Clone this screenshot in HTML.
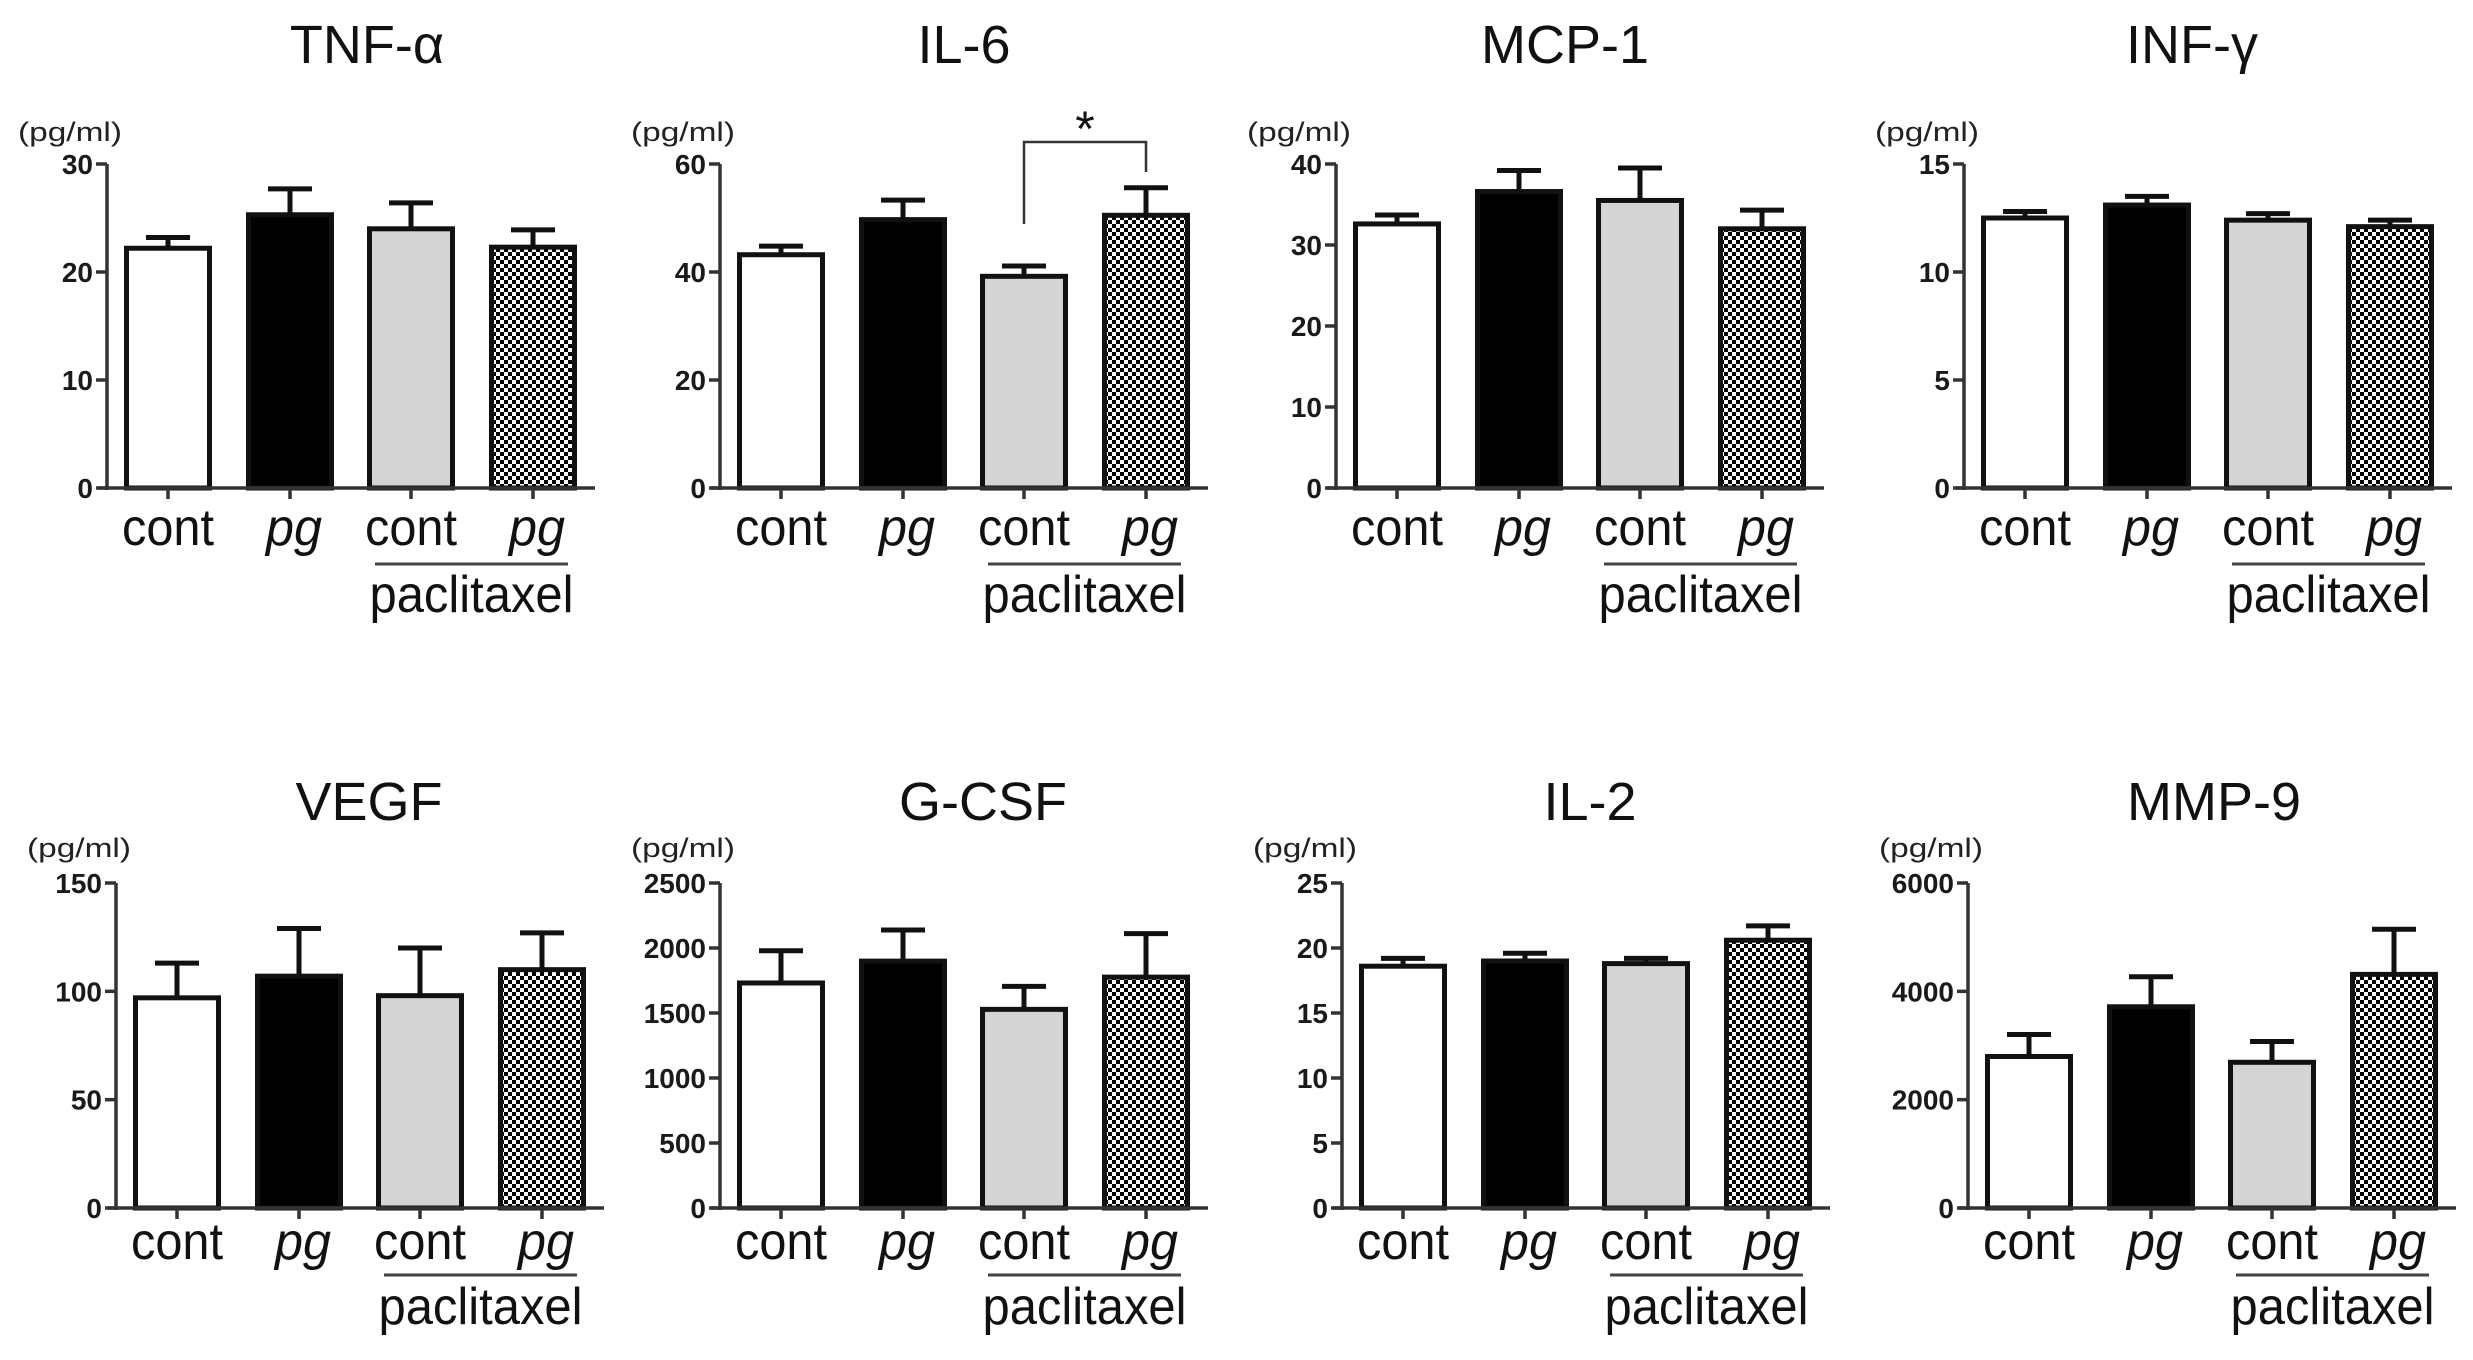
<!DOCTYPE html>
<html><head><meta charset="utf-8"><style>
html,body{margin:0;padding:0;background:#fff;}
svg{display:block;font-family:"Liberation Sans",Arial,sans-serif;}
</style></head>
<body>
<svg id="fig" width="2473" height="1360" viewBox="0 0 2473 1360" xmlns="http://www.w3.org/2000/svg">
<defs>
<pattern id="checker" width="8" height="8" patternUnits="userSpaceOnUse">
<rect width="8" height="8" fill="#fff"/>
<rect x="0" y="0" width="4" height="4" fill="#000"/>
<rect x="4" y="4" width="4" height="4" fill="#000"/>
</pattern>
</defs>
</svg>
<script>
const panelNames = ["TNF-α","IL-6","MCP-1","INF-γ","VEGF","G-CSF","IL-2","MMP-9"];
const categories = ["cont","pg","cont","pg"];
const yMax = [30,60,40,15,150,2500,25,6000];
const tickLabels = [
  [0,10,20,30],[0,20,40,60],[0,10,20,30,40],[0,5,10,15],
  [0,50,100,150],[0,500,1000,1500,2000,2500],[0,5,10,15,20,25],[0,2000,4000,6000]
];
const meanTNF = [22.2,25.3,24.0,22.3];
const errTNF  = [23.2,27.7,26.4,23.9];
const meanIL6 = [43.2,49.7,39.2,50.5];
const errIL6  = [44.8,53.3,41.1,55.6];
const meanMCP = [32.6,36.6,35.5,32.0];
const errMCP  = [33.7,39.2,39.5,34.3];
const meanINF = [12.5,13.1,12.4,12.1];
const errINF  = [12.8,13.5,12.7,12.4];
const meanVEGF = [97,107,98,110];
const errVEGF  = [113,129,120,127];
const meanGCSF = [1731,1899,1528,1776];
const errGCSF  = [1979,2138,1705,2111];
const meanIL2 = [18.6,19.0,18.8,20.6];
const errIL2  = [19.2,19.6,19.2,21.7];
const meanMMP = [2797,3715,2690,4313];
const errMMP  = [3203,4270,3075,5146];
const means = [meanTNF,meanIL6,meanMCP,meanINF,meanVEGF,meanGCSF,meanIL2,meanMMP];
const errs = [errTNF,errIL6,errMCP,errINF,errVEGF,errGCSF,errIL2,errMMP];

// layout (not data)
const axX = [107,720,1336,1964,116,720,1342,1968];
const titleX = [367,964,1565,2192,369,983,1590,2214];
const barOff = [61,183,304,426];
const barW = 83;
const fills = ["#fff","#000","#d4d4d4","url(#checker)"];
const rowGeo = [
  {top:164, zero:488, title:63, unit:141, cat:545, line:564, pac:612},
  {top:883, zero:1208, title:820, unit:857, cat:1259, line:1275, pac:1324}
];

const NS = "http://www.w3.org/2000/svg";
const svg = document.getElementById("fig");
function mk(tag, attrs, parent, text){
  const e = document.createElementNS(NS, tag);
  for (const k in attrs) e.setAttribute(k, attrs[k]);
  if (text !== undefined) e.textContent = text;
  parent.appendChild(e);
  return e;
}

for (let p = 0; p < 8; p++){
  const R = rowGeo[p < 4 ? 0 : 1];
  const top = R.top, zero = R.zero;
  const ax = axX[p];
  const yS = v => zero - (v / yMax[p]) * (zero - top);
  const xS = i => ax + barOff[i];

  const g = mk("g", {}, svg);
  
  

  const t = mk("text", {x:titleX[p], y:R.title, "font-size":54, "text-anchor":"middle", fill:"#111"}, g, panelNames[p]);
  
  

  const u = mk("text", {x:ax-89, y:R.unit, "font-size":27, fill:"#222", textLength:104, lengthAdjust:"spacingAndGlyphs"}, g, "(pg/ml)");
  
  

  for (let i = 0; i < 4; i++){
    const cx = xS(i), yt = yS(means[p][i]), ye = yS(errs[p][i]);
    const el = mk("line", {x1:cx, x2:cx, y1:yt, y2:ye, stroke:"#111", "stroke-width":5}, g);
    
    
    const cap = mk("line", {x1:cx-22, x2:cx+22, y1:ye, y2:ye, stroke:"#111", "stroke-width":5}, g);
    
    
    const b = mk("rect", {x:cx-barW/2, y:yt, width:barW, height:zero-yt, fill:fills[i], stroke:"#111", "stroke-width":5}, g);
    
    
    const xt = mk("line", {x1:cx, x2:cx, y1:zero, y2:zero+11, stroke:"#333", "stroke-width":3.5}, g);
    
    
    const isPg = i % 2 === 1;
    const lab = mk("text", {x:cx + (isPg ? 4 : 0), y:R.cat, "font-size":52, "text-anchor":"middle", fill:"#111", "font-style": isPg ? "italic" : "normal", textLength: isPg ? 56 : 92, lengthAdjust:"spacingAndGlyphs"}, g, categories[i]);
    
    
  }

  const ya = mk("line", {x1:ax, x2:ax, y1:top, y2:zero+2, stroke:"#333", "stroke-width":3.5}, g);
  
  
  const xa = mk("line", {x1:ax-9, x2:Math.min(ax+488, 2470), y1:zero, y2:zero, stroke:"#333", "stroke-width":3.5}, g);
  
  
  for (const v of tickLabels[p]){
    const y = yS(v);
    const tk = mk("line", {x1:ax-11, x2:ax, y1:y, y2:y, stroke:"#333", "stroke-width":3.5}, g);
    
    
    const tl = mk("text", {x:ax-14, y:y+10, "font-size":28, "font-weight":"bold", "text-anchor":"end", fill:"#1a1a1a"}, g, String(v));
    
    
  }

  const lx1 = xS(2) - 36, lx2 = xS(3) + 35;
  const pl = mk("line", {x1:lx1, x2:lx2, y1:R.line, y2:R.line, stroke:"#444", "stroke-width":3}, g);
  
  
  const pt = mk("text", {x:(lx1+lx2)/2, y:R.pac, "font-size":52, "text-anchor":"middle", fill:"#111", textLength:204, lengthAdjust:"spacingAndGlyphs"}, g, "paclitaxel");
  
  

  if (p === 1){
    const x1 = xS(2), x2 = xS(3);
    const sb = mk("polyline", {points:`${x1},224 ${x1},142 ${x2},142 ${x2},172`, fill:"none", stroke:"#333", "stroke-width":2.5}, g);
    
    
    const st = mk("text", {x:(x1+x2)/2, y:146, "font-size":50, "text-anchor":"middle", fill:"#111"}, g, "*");
    
    
  }
}
</script>
</body></html>
